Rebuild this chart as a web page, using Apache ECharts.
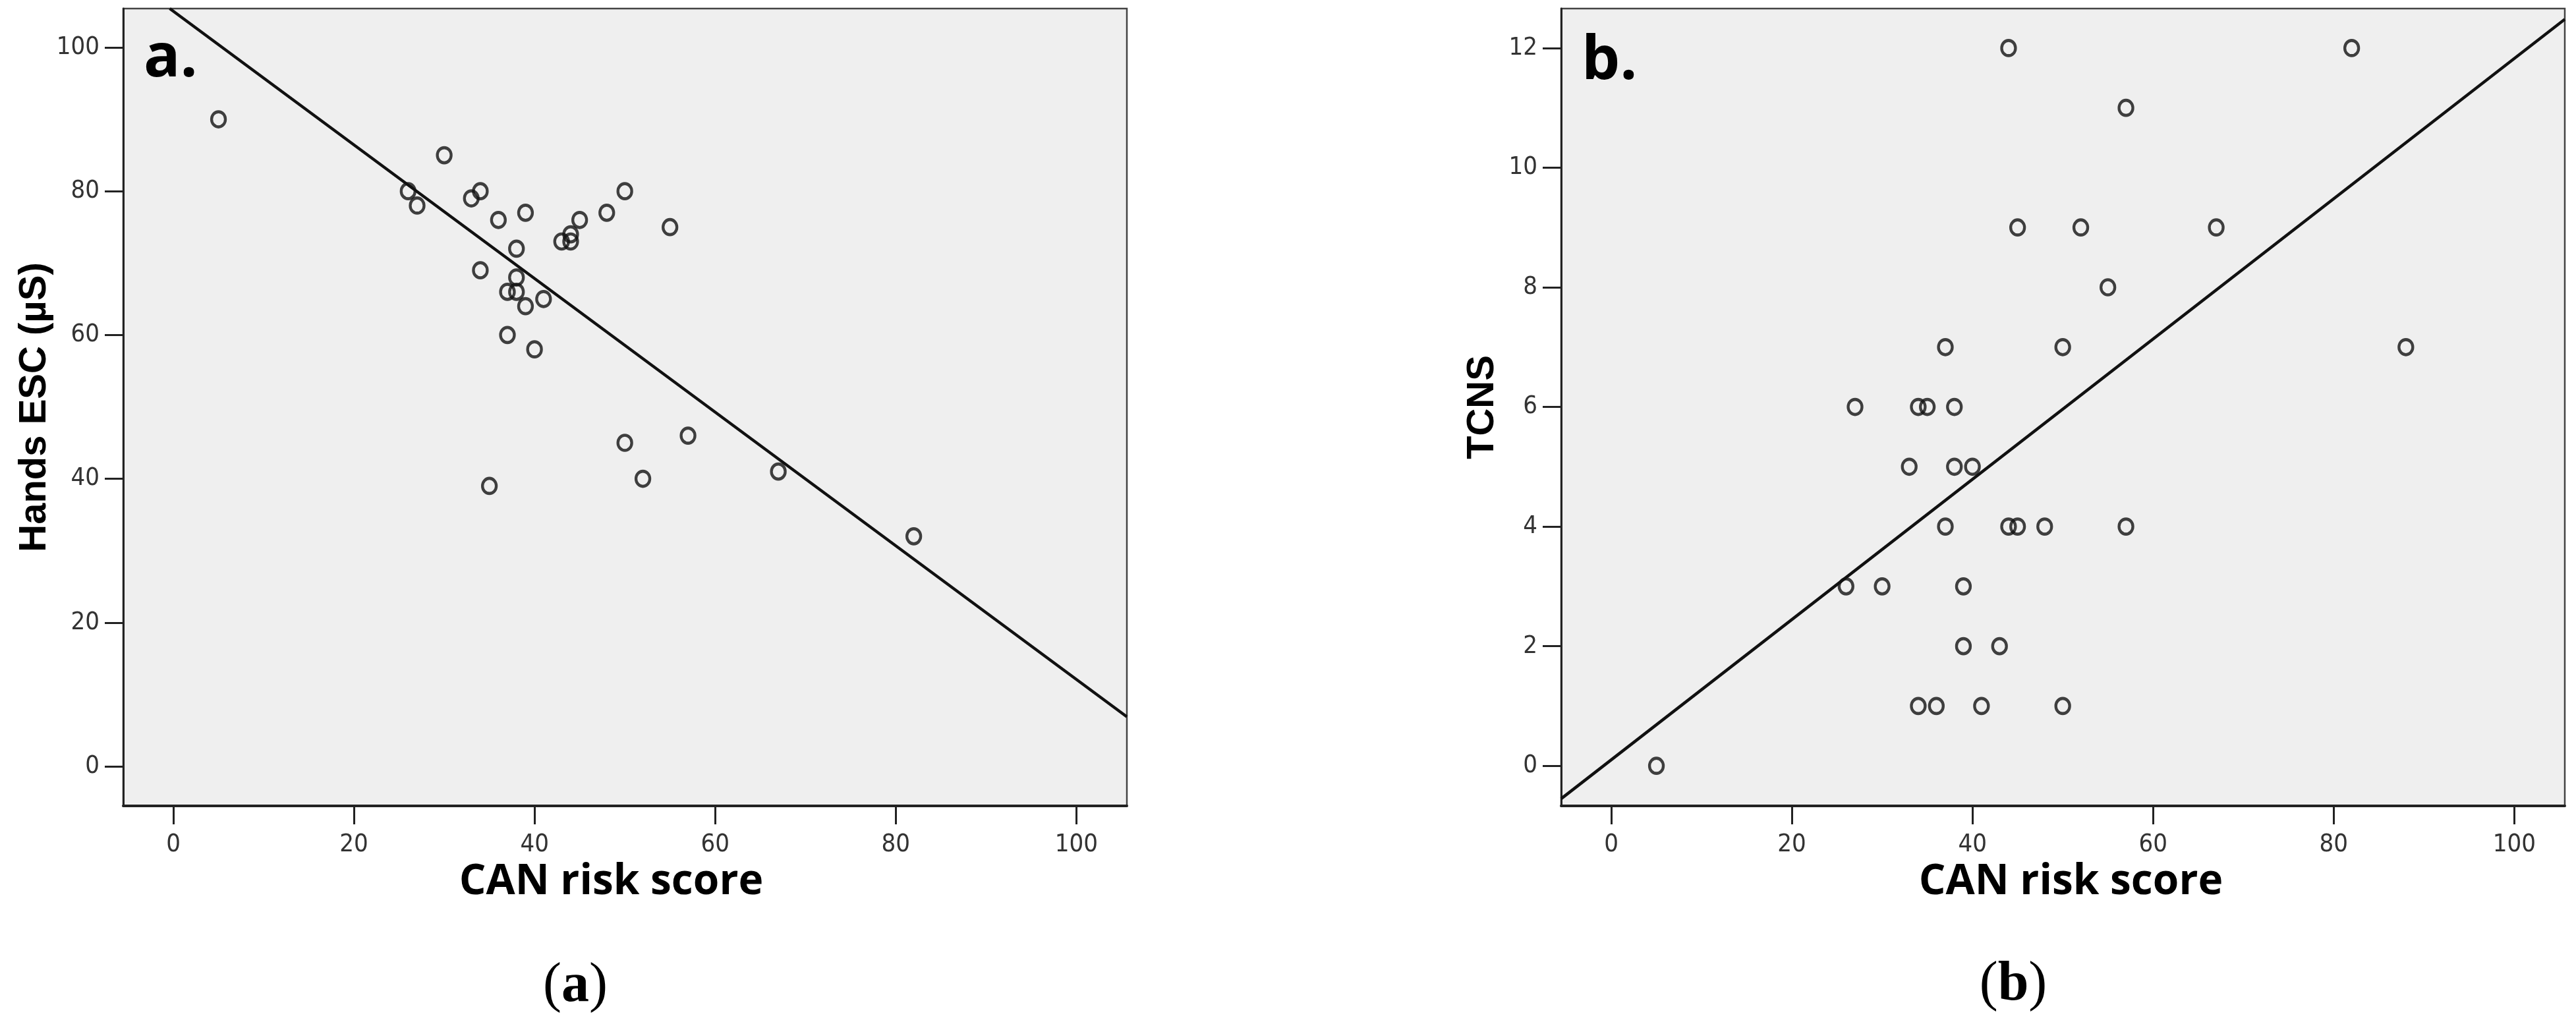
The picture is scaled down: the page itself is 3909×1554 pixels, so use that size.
<!DOCTYPE html>
<html>
<head>
<meta charset="utf-8">
<script src="https://cdn.jsdelivr.net/npm/echarts@6/dist/echarts.min.js"></script>
<style>
html, body { margin: 0; padding: 0; background: #fff; }
#chart { width: 3909px; height: 1554px; }
</style>
</head>
<body>
<div id="chart"></div>
<script>
// panel a: CAN risk score vs Hands ESC (µS)
const canA = [5, 30, 26, 27, 33, 34, 36, 39, 38, 34, 38, 37, 38, 39, 41, 37, 40, 43, 44, 44, 45, 48, 50, 50, 55, 35, 52, 67, 82, 57]
const escA = [90, 85, 80, 78, 79, 80, 76, 77, 72, 69, 68, 66, 66, 64, 65, 60, 58, 73, 73, 74, 76, 77, 80, 45, 75, 39, 40, 41, 32, 46]
// fit line, read where it enters / leaves the frame
const fitA = [[-0.4, 105.4], [105.6, 6.9]]

// panel b: CAN risk score vs TCNS
const canB = [44, 82, 57, 45, 52, 67, 55, 37, 50, 88, 27, 34, 35, 38, 33, 38, 40, 37, 44, 45, 48, 57, 26, 30, 39, 39, 43, 34, 36, 41, 50, 5]
const tcnsB = [12, 12, 11, 9, 9, 9, 8, 7, 7, 7, 6, 6, 6, 6, 5, 5, 5, 4, 4, 4, 4, 4, 3, 3, 3, 2, 2, 1, 1, 1, 1, 0]
const fitB = [[-5.55, -0.55], [105.6, 12.48]]

const xTicks = [0, 20, 40, 60, 80, 100]
const yTicksA = [0, 20, 40, 60, 80, 100]
const yTicksB = [0, 2, 4, 6, 8, 10, 12]

const tickFont = "'Liberation Sans Narrow', 'DejaVu Sans Condensed', sans-serif"
const titleFont = "'Open Sans', sans-serif"

function gridBox(left) {
  return {
    left, top: 13, width: 1523, height: 1210,
    show: true, backgroundColor: '#efefef', borderColor: '#444', borderWidth: 2.5,
  }
}

function xAxisOf(gridIndex, padding) {
  return {
    type: 'value', gridIndex, min: -5.55, max: 105.6,
    name: 'CAN risk score', nameLocation: 'middle', nameGap: 84,
    nameTextStyle: { fontFamily: titleFont, fontWeight: 'bold', fontSize: 64, color: '#000', padding },
    axisLine: { show: true, onZero: false, lineStyle: { color: '#222', width: 4 } },
    axisTick: { show: true, customValues: xTicks, length: 28, lineStyle: { color: '#222', width: 3 } },
    axisLabel: { customValues: xTicks, margin: 40, fontFamily: tickFont, fontSize: 38, color: '#333' },
    splitLine: { show: false },
  }
}

function yAxisOf(gridIndex, min, max, ticks, name, nameGap, nameFont) {
  return {
    type: 'value', gridIndex, min, max,
    name, nameLocation: 'middle', nameGap,
    nameTextStyle: { fontFamily: nameFont, fontWeight: 'bold', fontSize: 58, color: '#000' },
    axisLine: { show: true, onZero: false, lineStyle: { color: '#222', width: 3 } },
    axisTick: { show: true, customValues: ticks, length: 28, lineStyle: { color: '#222', width: 3 } },
    axisLabel: { customValues: ticks, margin: 36, fontFamily: tickFont, fontSize: 38, color: '#333' },
    splitLine: { show: false },
  }
}

const dotStyle = { color: 'rgba(0,0,0,0)', borderColor: '#111', borderWidth: 4.5 }
const fitStyle = { color: '#111', width: 4.5 }

function caption(x, y, letter) {
  return {
    type: 'text', x, y,
    style: {
      text: '{p|(}{b|' + letter + '}{p|)}',
      textAlign: 'center', textVerticalAlign: 'middle',
      rich: {
        p: { fontFamily: "'Liberation Serif', serif", fontSize: 84, fill: '#000' },
        b: { fontFamily: "'Liberation Serif', serif", fontSize: 84, fontWeight: 'bold', fill: '#000' },
      },
    },
  }
}

const chart = echarts.init(document.getElementById('chart'))
chart.setOption({
  animation: false,
  backgroundColor: '#fff',
  grid: [gridBox(187), gridBox(2369)],
  xAxis: [xAxisOf(0, [0, 42, 0, 0]), xAxisOf(1, [0, 0, 0, 24])],
  yAxis: [
    yAxisOf(0, -5.5, 105.4, yTicksA, 'Hands ESC (µS)', 105, "'Liberation Sans', Arial, sans-serif"),
    yAxisOf(1, -0.67, 12.66, yTicksB, 'TCNS', 90, "'Liberation Sans', Arial, sans-serif"),
  ],
  graphic: [
    { type: 'text', x: 218, y: 90, style: { text: 'a.', font: 'bold 92px "Open Sans"', fill: '#000', textAlign: 'left', textVerticalAlign: 'middle' } },
    { type: 'text', x: 2400, y: 94, style: { text: 'b.', font: 'bold 92px "Open Sans"', fill: '#000', textAlign: 'left', textVerticalAlign: 'middle' } },
    caption(873, 1497, 'a'),
    caption(3055, 1495, 'b'),
  ],
  series: [
    {
      type: 'scatter', xAxisIndex: 0, yAxisIndex: 0,
      data: canA.map((x, i) => [x, escA[i]]),
      symbol: 'circle', symbolSize: [21, 23], itemStyle: dotStyle, z: 3,
    },
    {
      type: 'line', xAxisIndex: 0, yAxisIndex: 0, data: fitA,
      symbol: 'none', clip: true, lineStyle: fitStyle, z: 2,
    },
    {
      type: 'scatter', xAxisIndex: 1, yAxisIndex: 1,
      data: canB.map((x, i) => [x, tcnsB[i]]),
      symbol: 'circle', symbolSize: [21, 23], itemStyle: dotStyle, z: 3,
    },
    {
      type: 'line', xAxisIndex: 1, yAxisIndex: 1, data: fitB,
      symbol: 'none', clip: true, lineStyle: fitStyle, z: 2,
    },
  ],
})
</script>
</body>
</html>
